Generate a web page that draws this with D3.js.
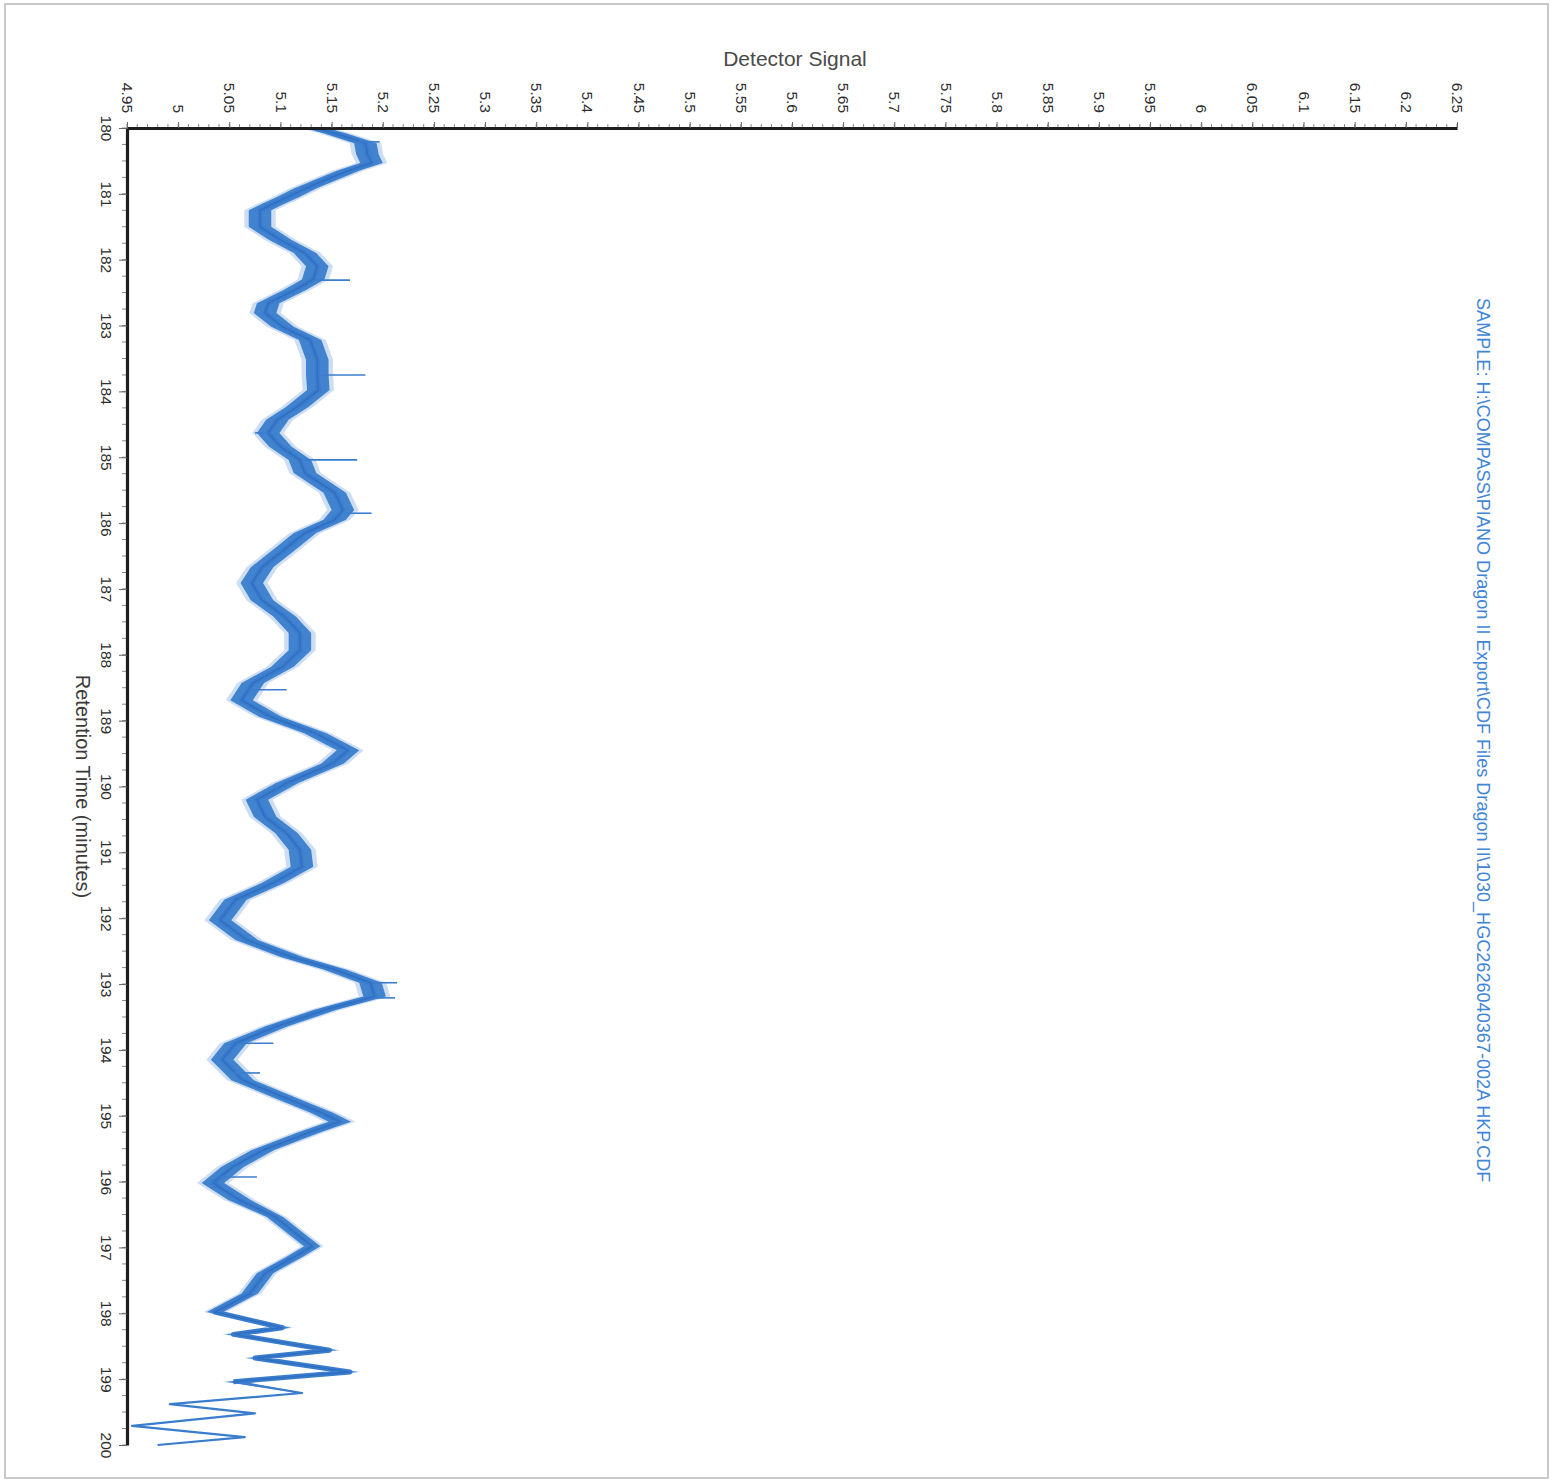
<!DOCTYPE html>
<html><head><meta charset="utf-8">
<script src="https://cdn.jsdelivr.net/npm/d3@7"></script>
<style>body{margin:0;background:#fff;} svg{display:block;}</style>
</head><body>
<svg id="chart" width="1555" height="1481"></svg>
<script>
// ---- data ----
const retentionTimes = [180.00,180.08,180.23,180.40,180.53,180.65,180.79,180.92,181.05,181.15,181.25,181.50,181.70,181.90,182.10,182.30,182.46,182.66,182.81,183.02,183.22,183.52,183.75,183.98,184.24,184.43,184.63,184.84,185.04,185.24,185.54,185.80,185.95,186.15,186.40,186.67,186.91,187.17,187.42,187.67,187.93,188.18,188.43,188.69,188.94,189.19,189.45,189.65,189.95,190.20,190.46,190.71,190.96,191.22,191.47,191.72,192.03,192.33,192.59,192.78,192.98,193.19,193.39,193.65,193.90,194.15,194.46,194.71,194.96,195.09,195.26,195.52,195.78,196.02,196.28,196.54,196.80,196.98,197.14,197.39,197.70,197.98,198.22,198.32,198.56,198.68,198.89,199.04,199.21,199.38,199.52,199.71,199.88,200.00];
const detectorSignal = [5.134,5.153,5.183,5.185,5.189,5.166,5.144,5.124,5.107,5.093,5.080,5.080,5.100,5.124,5.136,5.132,5.114,5.088,5.085,5.102,5.129,5.136,5.136,5.137,5.116,5.097,5.088,5.100,5.119,5.124,5.153,5.161,5.153,5.124,5.104,5.082,5.072,5.082,5.104,5.119,5.119,5.102,5.073,5.062,5.090,5.134,5.166,5.151,5.106,5.077,5.085,5.106,5.119,5.121,5.092,5.056,5.041,5.067,5.111,5.153,5.188,5.192,5.144,5.095,5.056,5.043,5.063,5.102,5.141,5.158,5.127,5.083,5.053,5.034,5.060,5.095,5.116,5.131,5.114,5.085,5.070,5.036,5.102,5.054,5.148,5.075,5.168,5.054,5.121,4.992,5.075,4.955,5.065,4.980];
// baseline noise half-amplitude (signal units) by retention-time range
const noiseBreaks = [196.5, 199.1];
const noiseLevels = [0.011, 0.008, 0.002];
// isolated noise spikes
const spikeTimes = [180.21, 182.31, 183.75, 185.04, 185.85, 184.63, 188.53, 192.98, 193.21, 193.90, 194.35, 195.93];
const spikeBase  = [5.175, 5.135, 5.140, 5.122, 5.160, 5.088, 5.068, 5.190, 5.190, 5.058, 5.055, 5.040];
const spikeTip   = [5.197, 5.168, 5.183, 5.175, 5.189, 5.075, 5.106, 5.214, 5.212, 5.093, 5.080, 5.077];
// axes
const signalTicks = d3.range(495, 626, 5).map(i => i / 100);
const signalMinorTicks = d3.range(495, 626, 1).map(i => i / 100);
const timeTicks = d3.range(180, 201, 1);
const timeMinorTicks = d3.range(720, 801, 1).map(i => i / 4);
const xTitle = "Detector Signal";
const yTitle = "Retention Time (minutes)";
const sampleLabel = "SAMPLE: H:\\COMPASS\\PIANO Dragon II Export\\CDF Files Dragon II\\1030_HGC2626040367-002A HKP.CDF";

// ---- drawing ----
const svg = d3.select("#chart");
const W = 1555, H = 1481;
const L = 127, T = 128, R = 1457, B = 1445;
const x = d3.scaleLinear().domain([4.95, 6.25]).range([L, R]);
const y = d3.scaleLinear().domain([180, 200]).range([T, B]);
const noiseAt = d3.scaleThreshold().domain(noiseBreaks).range(noiseLevels);
const fontMain = "'Liberation Sans', Arial, sans-serif";
const blue = "#3a7dcd";

svg.append("rect").attr("width", W).attr("height", H).attr("fill", "#fff");
// outer frame
svg.append("rect").attr("x", 5).attr("y", 4).attr("width", 1543).attr("height", 1474)
  .attr("fill", "none").attr("stroke", "#c9c9c9").attr("stroke-width", 2);

const data = retentionTimes.map((t, i) => ({t, v: detectorSignal[i], n: noiseAt(t)}));

svg.append("clipPath").attr("id", "plotclip").append("rect")
  .attr("x", L + 1).attr("y", T + 1).attr("width", R - L).attr("height", B - T + 10);
const g = svg.append("g").attr("clip-path", "url(#plotclip)");

const fuzz = d3.area().y(d => y(d.t)).x0(d => x(d.v - d.n * 1.4)).x1(d => x(d.v + d.n * 1.4));
const band = d3.area().y(d => y(d.t)).x0(d => x(d.v - d.n)).x1(d => x(d.v + d.n));
const line = d3.line().y(d => y(d.t)).x(d => x(d.v));

g.append("path").datum(data).attr("d", fuzz).attr("fill", blue).attr("opacity", 0.25);
g.append("path").datum(data).attr("d", band).attr("fill", blue).attr("opacity", 0.95);

const k = d3.bisectLeft(retentionTimes, noiseBreaks[1]);
g.append("path").datum(data.slice(0, k)).attr("d", line).attr("fill", "none")
  .attr("stroke", blue).attr("stroke-width", 5).attr("stroke-linejoin", "round");
g.append("path").datum(data.slice(k - 1)).attr("d", line).attr("fill", "none")
  .attr("stroke", blue).attr("stroke-width", 2.2).attr("stroke-linejoin", "round");
g.append("path").datum(data.slice(0, k)).attr("d", line).attr("fill", "none")
  .attr("stroke", "#2f6fc2").attr("stroke-width", 1.5);

g.selectAll("line.spike").data(spikeTimes).join("line").attr("class", "spike")
  .attr("y1", d => y(d)).attr("y2", d => y(d))
  .attr("x1", (d, i) => x(spikeBase[i])).attr("x2", (d, i) => x(spikeTip[i]))
  .attr("stroke", blue).attr("stroke-width", 1.6);

// minor ticks
svg.append("g").selectAll("line").data(signalMinorTicks).join("line")
  .attr("x1", d => x(d)).attr("x2", d => x(d)).attr("y1", T).attr("y2", T - 4)
  .attr("stroke", "#8a8a8a").attr("stroke-width", 1);
svg.append("g").selectAll("line").data(timeMinorTicks).join("line")
  .attr("y1", d => y(d)).attr("y2", d => y(d)).attr("x1", L).attr("x2", L - 5)
  .attr("stroke", "#8a8a8a").attr("stroke-width", 1);

// top axis (detector signal)
const topAxis = svg.append("g").attr("transform", `translate(0,${T})`)
  .call(d3.axisTop(x).tickValues(signalTicks).tickFormat(d => String(d)).tickSize(6).tickSizeOuter(0));
topAxis.select(".domain").attr("stroke", "#1e1e1e").attr("stroke-width", 3.2);
topAxis.selectAll(".tick line").attr("stroke", "#666");
topAxis.selectAll(".tick text")
  .attr("x", 0).attr("y", 0).attr("dy", "0.35em").attr("text-anchor", "end")
  .attr("transform", "translate(0,-15) rotate(90)")
  .attr("font-family", fontMain).attr("font-size", 15.5).attr("fill", "#2e2e2e");

// left axis (retention time)
const leftAxis = svg.append("g").attr("transform", `translate(${L},0)`)
  .call(d3.axisLeft(y).tickValues(timeTicks).tickFormat(d3.format("d")).tickSize(8).tickSizeOuter(0));
leftAxis.select(".domain").attr("stroke", "#1e1e1e").attr("stroke-width", 3.2);
leftAxis.selectAll(".tick line").attr("stroke", "#666");
leftAxis.selectAll(".tick text")
  .attr("x", 0).attr("y", 0).attr("dy", 0).attr("text-anchor", "middle")
  .attr("transform", "translate(-26,0) rotate(90)")
  .attr("font-family", fontMain).attr("font-size", 15.5).attr("fill", "#2e2e2e");

// titles
svg.append("text").attr("x", (L + R) / 2 + 3).attr("y", 66).attr("text-anchor", "middle")
  .attr("font-family", fontMain).attr("font-size", 21).attr("fill", "#4a4a4a").text(xTitle);
svg.append("text").attr("transform", `translate(76,${(T + B) / 2}) rotate(90)`).attr("text-anchor", "middle")
  .attr("font-family", fontMain).attr("font-size", 20).attr("fill", "#3a3a3a").text(yTitle);

const st = svg.append("text").attr("transform", "translate(1477,298) rotate(90)").attr("text-anchor", "start")
  .attr("font-family", fontMain).attr("font-size", 16).attr("fill", "#3f86d6").text(sampleLabel);
const len = st.node().getComputedTextLength();
st.attr("font-size", 16 * 885 / len);
</script>
</body></html>
